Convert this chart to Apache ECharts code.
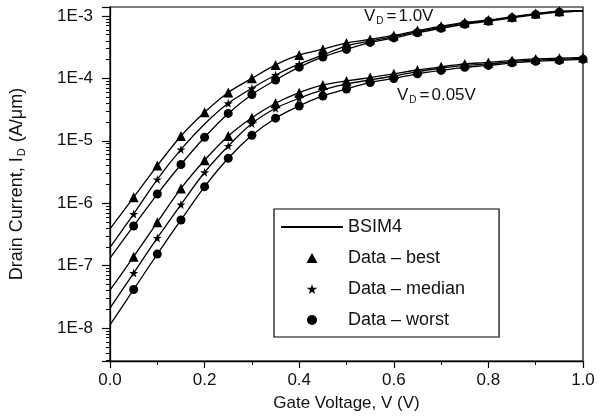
<!DOCTYPE html>
<html>
<head>
<meta charset="utf-8">
<script src="https://cdn.jsdelivr.net/npm/echarts@6/dist/echarts.min.js"></script>
<style>
  html, body { margin: 0; padding: 0; background: #fff; }
  #chart { width: 599px; height: 419px; }
</style>
</head>
<body>
<div id="chart"></div>
<script>
// gate voltage for data points and model curve
var vgData = [0.05, 0.10, 0.15, 0.20, 0.25, 0.30, 0.35, 0.40, 0.45, 0.50,
              0.55, 0.60, 0.65, 0.70, 0.75, 0.80, 0.85, 0.90, 0.95, 1.00];
var vgModel = [0.00, 0.05, 0.10, 0.15, 0.20, 0.25, 0.30, 0.35, 0.40, 0.45, 0.50,
               0.55, 0.60, 0.65, 0.70, 0.75, 0.80, 0.85, 0.90, 0.95, 1.00];

// measured data, VD = 1.0V (no point at 1.0)
var hiBest   = [1.24e-6, 4.0e-6, 1.19e-5, 2.86e-5, 5.94e-5, 1.0e-4, 1.64e-4, 2.37e-4, 2.93e-4, 3.69e-4,
                4.2e-4, 4.87e-4, 5.83e-4, 6.84e-4, 7.87e-4, 8.6e-4, 9.7e-4, 1.09e-3, 1.19e-3];
var hiMedian = [6.7e-7, 2.4e-6, 7.26e-6, null, 3.99e-5, 6.94e-5, 1.13e-4, 1.70e-4, 2.37e-4, 3.31e-4,
                3.97e-4, 4.66e-4, 5.6e-4, 6.59e-4, 7.64e-4, 8.4e-4, 9.5e-4, 1.08e-3, 1.17e-3];
var hiWorst  = [4.31e-7, 1.40e-6, 4.17e-6, 1.14e-5, 2.74e-5, 5.52e-5, 9.4e-5, 1.51e-4, 2.20e-4, 2.91e-4,
                3.76e-4, 4.44e-4, 5.38e-4, 6.35e-4, 7.36e-4, 8.2e-4, 9.3e-4, 1.05e-3, 1.15e-3];

// measured data, VD = 0.05V
var loBest   = [1.39e-7, 4.94e-7, 1.72e-6, 4.87e-6, 1.19e-5, 2.34e-5, 3.99e-5, 5.90e-5, 7.84e-5, 9.08e-5,
                1.03e-4, 1.18e-4, 1.36e-4, 1.53e-4, 1.70e-4, 1.80e-4, 1.94e-4, 2.05e-4, 2.10e-4, 2.16e-4];
var loMedian = [7.6e-8, 2.77e-7, 9.5e-7, 3.13e-6, 8.26e-6, 1.89e-5, 3.32e-5, 4.80e-5, 6.52e-5, 8.13e-5,
                9.42e-5, 1.09e-4, 1.28e-4, 1.45e-4, 1.61e-4, 1.70e-4, 1.85e-4, 1.97e-4, 2.02e-4, 2.10e-4];
var loWorst  = [4.14e-8, 1.53e-7, 5.38e-7, 1.84e-6, 5.25e-6, 1.22e-5, 2.30e-5, 3.61e-5, 5.22e-5, 6.76e-5,
                8.59e-5, 9.96e-5, 1.18e-4, 1.34e-4, 1.50e-4, 1.61e-4, 1.77e-4, 1.88e-4, 1.94e-4, 2.02e-4];

// BSIM4 model curves (0.0 .. 1.0)
var bsimHiBest   = [3.86e-7, 1.24e-6, 4.0e-6, 1.19e-5, 2.86e-5, 5.94e-5, 1.0e-4, 1.64e-4, 2.37e-4, 2.93e-4, 3.69e-4,
                    4.2e-4, 4.87e-4, 5.83e-4, 6.84e-4, 7.87e-4, 8.6e-4, 9.7e-4, 1.09e-3, 1.19e-3, 1.22e-3];
var bsimHiMedian = [1.96e-7, 6.7e-7, 2.4e-6, 7.26e-6, 1.86e-5, 3.99e-5, 6.94e-5, 1.13e-4, 1.70e-4, 2.37e-4, 3.31e-4,
                    3.97e-4, 4.66e-4, 5.6e-4, 6.59e-4, 7.64e-4, 8.4e-4, 9.5e-4, 1.08e-3, 1.17e-3, 1.21e-3];
var bsimHiWorst  = [1.32e-7, 4.31e-7, 1.40e-6, 4.17e-6, 1.14e-5, 2.74e-5, 5.52e-5, 9.4e-5, 1.51e-4, 2.20e-4, 2.91e-4,
                    3.76e-4, 4.44e-4, 5.38e-4, 6.35e-4, 7.36e-4, 8.2e-4, 9.3e-4, 1.05e-3, 1.15e-3, 1.20e-3];
var bsimLoBest   = [4.06e-8, 1.39e-7, 4.94e-7, 1.72e-6, 4.87e-6, 1.19e-5, 2.34e-5, 3.99e-5, 5.90e-5, 7.84e-5, 9.08e-5,
                    1.03e-4, 1.18e-4, 1.36e-4, 1.53e-4, 1.70e-4, 1.80e-4, 1.94e-4, 2.05e-4, 2.10e-4, 2.16e-4];
var bsimLoMedian = [2.09e-8, 7.6e-8, 2.77e-7, 9.5e-7, 3.13e-6, 8.26e-6, 1.89e-5, 3.32e-5, 4.80e-5, 6.52e-5, 8.13e-5,
                    9.42e-5, 1.09e-4, 1.28e-4, 1.45e-4, 1.61e-4, 1.70e-4, 1.85e-4, 1.97e-4, 2.02e-4, 2.10e-4];
var bsimLoWorst  = [1.12e-8, 4.14e-8, 1.53e-7, 5.38e-7, 1.84e-6, 5.25e-6, 1.22e-5, 2.30e-5, 3.61e-5, 5.22e-5, 6.76e-5,
                    8.59e-5, 9.96e-5, 1.18e-4, 1.34e-4, 1.50e-4, 1.61e-4, 1.77e-4, 1.88e-4, 1.94e-4, 2.02e-4];

// decades shown on the y axis (log ticks 2..9 between them)
var yDecades = [1e-9, 1e-8, 1e-7, 1e-6, 1e-5, 1e-4, 1e-3];
var yMin = 2.96e-9, yMax = 1.39e-3;

var FONT = '"Liberation Sans", Arial, sans-serif';
var starPath = 'path://M50,0 L61,35 L98,35 L68,57 L79,91 L50,70 L21,91 L32,57 L2,35 L39,35 Z';
var triPath = 'path://M5,0 L10,9 L0,9 Z';

function pairs(xs, ys) {
    var out = [];
    for (var k = 0; k < ys.length; k++) {
        if (ys[k] != null) out.push([xs[k], ys[k]]);
    }
    return out;
}

// minor log ticks 2..9 inside the axis range
var minorVals = [];
yDecades.forEach(function (d) {
    for (var m = 2; m <= 9; m++) {
        var v = d * m;
        if (v > yMin && v < yMax) minorVals.push(v);
    }
});

function modelLine(ys) {
    return {
        name: 'BSIM4',
        type: 'line',
        data: pairs(vgModel, ys),
        symbol: 'none',
        showSymbol: false,
        smooth: 0.25,
        lineStyle: { color: '#000', width: 1.3 },
        itemStyle: { color: '#000' },
        z: 2
    };
}

function dataPoints(name, symbol, size, hi, lo) {
    return {
        name: name,
        type: 'scatter',
        symbol: symbol,
        symbolSize: size,
        data: pairs(vgData, hi).concat(pairs(vgData, lo)),
        itemStyle: { color: '#000', opacity: 1 },
        z: 3
    };
}

var chart = echarts.init(document.getElementById('chart'));

var option = {
    animation: false,
    backgroundColor: '#fff',
    textStyle: { fontFamily: FONT },
    grid: {
        left: 110, right: 16, top: 7, bottom: 58,
        show: true, borderColor: '#000', borderWidth: 1.2
    },
    xAxis: {
        type: 'value',
        min: 0, max: 1, interval: 0.2,
        name: 'Gate Voltage, V (V)',
        nameLocation: 'middle',
        nameGap: 34,
        nameTextStyle: { fontSize: 17, color: '#111', fontFamily: FONT },
        axisLine: { lineStyle: { color: '#000', width: 1.3 } },
        axisTick: { length: 7, lineStyle: { color: '#000', width: 1.2 } },
        minorTick: { show: true, splitNumber: 2, length: 4, lineStyle: { color: '#000', width: 1 } },
        axisLabel: {
            fontSize: 17, color: '#111', margin: 11, fontFamily: FONT,
            formatter: function (v) { return v.toFixed(1); }
        },
        splitLine: { show: false }
    },
    yAxis: [
        {
            type: 'log',
            min: yMin, max: yMax,
            name: '{a|Drain Current, I}{s|D}{a| (A/μm)}',
            nameLocation: 'middle',
            nameGap: 83,
            nameTextStyle: {
                color: '#111', fontFamily: FONT,
                rich: {
                    a: { fontSize: 18, color: '#111', fontFamily: FONT },
                    s: { fontSize: 11, color: '#111', fontFamily: FONT, padding: [9, 1, 0, 1] }
                }
            },
            axisLine: { lineStyle: { color: '#000', width: 1.3 } },
            axisTick: { length: 8, lineStyle: { color: '#000', width: 1.2 } },
            minorTick: { show: false },
            axisLabel: {
                fontSize: 17, color: '#111', margin: 17, fontFamily: FONT,
                formatter: function (v) {
                    var e = Math.log10(v);
                    if (Math.abs(e - Math.round(e)) > 1e-6) return '';
                    return '1E' + Math.round(e);
                }
            },
            splitLine: { show: false }
        },
        {
            // overlay axis that only carries the log-spaced minor ticks
            type: 'log',
            position: 'left',
            min: yMin, max: yMax,
            axisLine: { show: false },
            axisLabel: { show: false },
            axisTick: {
                show: true, length: 4, customValues: minorVals,
                lineStyle: { color: '#000', width: 1 }
            },
            splitLine: { show: false }
        }
    ],
    legend: {
        orient: 'vertical',
        left: 274, top: 209,
        padding: [9, 34, 8, 7],
        itemWidth: 62, itemHeight: 10, itemGap: 13,
        symbolKeepAspect: true,
        borderColor: '#000', borderWidth: 1.2,
        textStyle: { fontSize: 18, color: '#111', fontFamily: FONT },
        data: [
            { name: 'BSIM4', icon: 'path://M0,0 L62,0 L62,2 L0,2 Z' },
            { name: 'Data – best', icon: triPath },
            { name: 'Data – median', icon: starPath },
            { name: 'Data – worst', icon: 'circle' }
        ]
    },
    graphic: [
        {
            type: 'text', left: 364, top: 8,
            style: {
                text: '{a|V}{s|D}{e|=}{a|1.0V}',
                rich: {
                    a: { fontSize: 17, fill: '#111', fontFamily: FONT },
                    e: { fontSize: 17, fill: '#111', fontFamily: FONT, padding: [0, 2, 0, 1] },
                    s: { fontSize: 10, fill: '#111', fontFamily: FONT, padding: [10, 2, 0, 1] }
                }
            }
        },
        {
            type: 'text', left: 397, top: 87,
            style: {
                text: '{a|V}{s|D}{e|=}{a|0.05V}',
                rich: {
                    a: { fontSize: 17, fill: '#111', fontFamily: FONT },
                    e: { fontSize: 17, fill: '#111', fontFamily: FONT, padding: [0, 2, 0, 1] },
                    s: { fontSize: 10, fill: '#111', fontFamily: FONT, padding: [10, 2, 0, 1] }
                }
            }
        }
    ],
    series: [
        modelLine(bsimHiBest),
        modelLine(bsimHiMedian),
        modelLine(bsimHiWorst),
        modelLine(bsimLoBest),
        modelLine(bsimLoMedian),
        modelLine(bsimLoWorst),
        dataPoints('Data – best', 'triangle', 10, hiBest, loBest),
        dataPoints('Data – median', starPath, 9, hiMedian, loMedian),
        dataPoints('Data – worst', 'circle', 9, hiWorst, loWorst)
    ]
};

chart.setOption(option);
</script>
</body>
</html>
